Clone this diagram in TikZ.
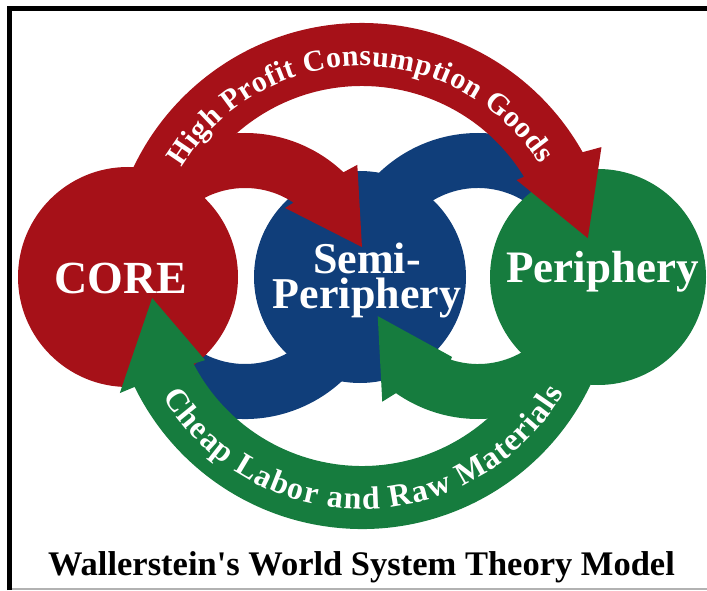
\documentclass[tikz,border=0pt]{standalone}
\usepackage{fontspec}
\setmainfont{Liberation Serif}
\usetikzlibrary{decorations.text}
\definecolor{corered}{RGB}{166,17,24}
\definecolor{semiblue}{RGB}{16,62,122}
\definecolor{perigreen}{RGB}{22,124,62}

\begin{document}
\begin{tikzpicture}
  [x=1pt,y=1pt,
   whitetext/.style={text=white,inner sep=0pt},
   arctext/.style={decorate,decoration={text along path,text align=fit to path,text color=white}},
  ]
  \useasboundingbox (0,0) rectangle (707,590);
  % frame
  \draw[line width=5pt] (9.5,0) -- (9.5,581) -- (707,581);
  \draw[gray!60,line width=2pt] (12,1) -- (707,1);

  \coordinate (big) at (362,314);
  \coordinate (ringa) at (245,314);
  \coordinate (ringb) at (478,314);

  % blue bands and circle
  \fill[semiblue] ([shift={(ringa)}]200:143pt) arc[start angle=200,end angle=360,radius=143pt]
     -- ([shift={(ringa)}]0:88pt) arc[start angle=360,end angle=200,radius=88pt] -- cycle;
  \fill[semiblue] ([shift={(ringb)}]180:143pt) arc[start angle=180,end angle=25,radius=143pt]
     -- ([shift={(ringb)}]25:88pt) arc[start angle=25,end angle=180,radius=88pt] -- cycle;
  \fill[semiblue] (360,313) circle[radius=106pt];
  \fill[corered] (128,313) circle[radius=110pt];
  \fill[perigreen] (598,313) circle[radius=108pt];

  % red arrows
  \fill[corered] ([shift={(ringa)}]180:143pt) arc[start angle=180,end angle=46.5,radius=143pt]
     -- ([shift={(ringa)}]44.7:158pt) -- ([shift={(ringa)}]13.9:120.5pt) -- ([shift={(ringa)}]59.5:79pt)
     -- ([shift={(ringa)}]56.5:88pt) arc[start angle=56.5,end angle=180,radius=88pt] -- cycle;
  \fill[corered] ([shift={(big)}]175:253pt) arc[start angle=175,end angle=29.3,radius=253pt]
     -- ([shift={(big)}]28.3:272pt) -- ([shift={(big)}]9.5:229pt) -- ([shift={(big)}]31.8:182pt)
     -- ([shift={(big)}]31.5:190pt) arc[start angle=31.5,end angle=175,radius=190pt] -- cycle;

  % green arrows
  \fill[perigreen] ([shift={(ringb)}]10:143pt) arc[start angle=10,end angle=-125,radius=143pt]
     -- ([shift={(ringb)}]-127.3:158pt) -- ([shift={(ringb)}]-158.2:108pt) -- ([shift={(ringb)}]-107.8:85pt)
     -- ([shift={(ringb)}]-108:88pt) arc[start angle=-108,end angle=10,radius=88pt] -- cycle;
  \fill[perigreen] ([shift={(big)}]-10:253pt) arc[start angle=-10,end angle=-154,radius=253pt]
     -- ([shift={(big)}]-154.2:269pt) -- ([shift={(big)}]-174:211pt) -- ([shift={(big)}]-151.8:178pt)
     -- ([shift={(big)}]-152.5:190pt) arc[start angle=-152.5,end angle=-10,radius=190pt] -- cycle;

  % texts
  \path[arctext,decoration={text={|\fontsize{30}{30}\selectfont\bfseries|High Profit Consumption Goods}}]
     ([shift={(big)}]149:210pt) arc[start angle=149,end angle=32,radius=210pt];
  \path[arctext,decoration={text={|\fontsize{32}{32}\selectfont\bfseries|Cheap Labor and Raw Materials}}]
     ([shift={(big)}]211:233pt) arc[start angle=211,end angle=330,radius=233pt];

  \node[whitetext,font=\bfseries\fontsize{46}{46}\selectfont,anchor=base] (core) at (121,297) {CORE};
  \node[whitetext,font=\bfseries\fontsize{44}{35}\selectfont,align=center] (semi) at (367,310) {Semi-\\Periphery};
  \node[whitetext,font=\bfseries\fontsize{45}{45}\selectfont,anchor=base] (peri) at (602.5,307) {Periphery};
  \node[font=\bfseries\fontsize{34.5}{35}\selectfont,anchor=base,inner sep=0pt] (title) at (361.5,15)
     {Wallerstein\textquotesingle s World System Theory Model};
\end{tikzpicture}
\end{document}
